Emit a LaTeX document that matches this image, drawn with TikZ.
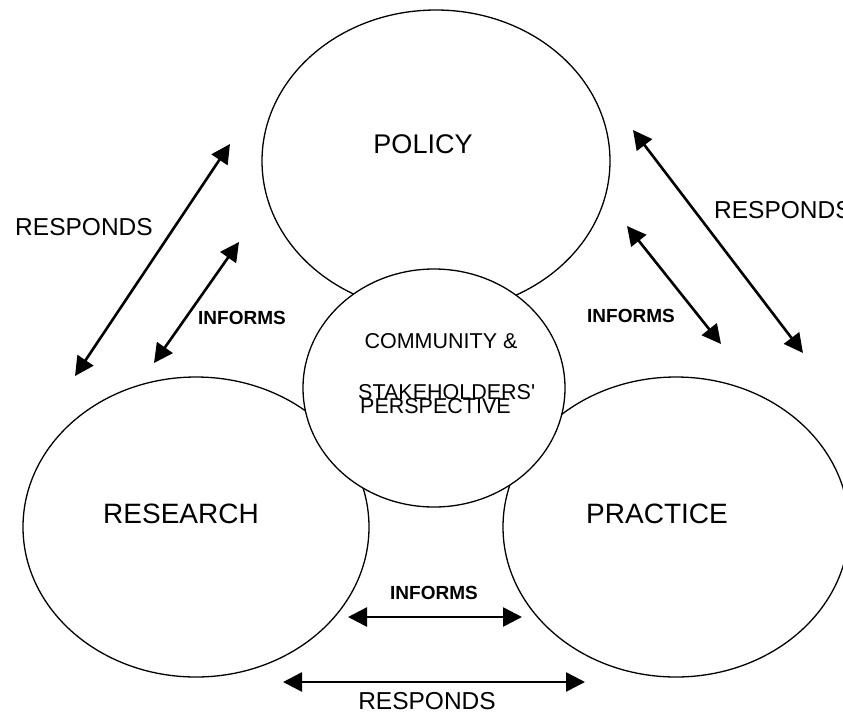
\documentclass[tikz,border=0pt]{standalone}
\usepackage{fontspec}
\setmainfont{Liberation Sans}
\usetikzlibrary{shapes.geometric,arrows.meta}
\begin{document}
\begin{tikzpicture}[x=1pt,y=-1pt,
  area/.style={draw=black,line width=1.3pt,ellipse,inner sep=0pt},
  areatext/.style={font=\fontsize{28}{30}\selectfont,inner sep=0pt},
  hubtext/.style={font=\fontsize{21.5}{23}\selectfont,inner sep=0pt},
  linktext/.style={font=\bfseries\fontsize{19}{21}\selectfont,inner sep=0pt},
  resptext/.style={font=\fontsize{24.5}{26}\selectfont,inner sep=0pt},
  link/.style={line width=2.6pt,{Triangle[length=19pt,width=19pt]}-{Triangle[length=19pt,width=19pt]}}
]
\useasboundingbox (0,0) rectangle (843,713);

% the three outer areas
\node[area,minimum width=348pt,minimum height=302pt] (policy) at (436,161) {};
\node[area,minimum width=346pt,minimum height=300pt] (research) at (196,527) {};
\node[area,minimum width=346pt,minimum height=300pt] (practice) at (676,527) {};

% central hub, drawn over the others
\node[area,fill=white,minimum width=262pt,minimum height=238pt] (hub) at (434,388) {};

% area labels
\node[areatext,font=\fontsize{27}{29}\selectfont] (policyT) at (423,144) {POLICY};
\node[areatext] (researchT) at (181,514) {RESEARCH};
\node[areatext] (practiceT) at (657,514) {PRACTICE};
\node[hubtext] (hubA) at (441,341) {COMMUNITY \&};
\node[hubtext,anchor=west] (hubB) at (358,392) {STAKEHOLDERS\textquotesingle};
\node[hubtext,anchor=west] (hubC) at (360,406) {PERSPECTIVE};

% arrow end points
\coordinate (lrA) at (230,144);
\coordinate (lrB) at (75,376);
\coordinate (liA) at (239,242);
\coordinate (liB) at (154,363);
\coordinate (rrA) at (633,130);
\coordinate (rrB) at (803,353);
\coordinate (riA) at (627,226);
\coordinate (riB) at (721,344);
\coordinate (biA) at (348,617);
\coordinate (biB) at (522,617);
\coordinate (brA) at (283,682);
\coordinate (brB) at (585,682);

% two-way links
\draw[link] (lrA) -- (lrB);
\draw[link] (liA) -- (liB);
\draw[link] (rrA) -- (rrB);
\draw[link] (riA) -- (riB);
\draw[link] (biA) -- (biB);
\draw[link] (brA) -- (brB);

% link labels
\node[resptext] (lrT) at (84,227) {RESPONDS};
\node[linktext] (liT) at (242,318) {INFORMS};
\node[resptext,anchor=west] (rrT) at (714,210) {RESPONDS};
\node[linktext] (riT) at (631,316) {INFORMS};
\node[linktext] (biT) at (434,593) {INFORMS};
\node[resptext] (brT) at (427,701) {RESPONDS};
\end{tikzpicture}
\end{document}
